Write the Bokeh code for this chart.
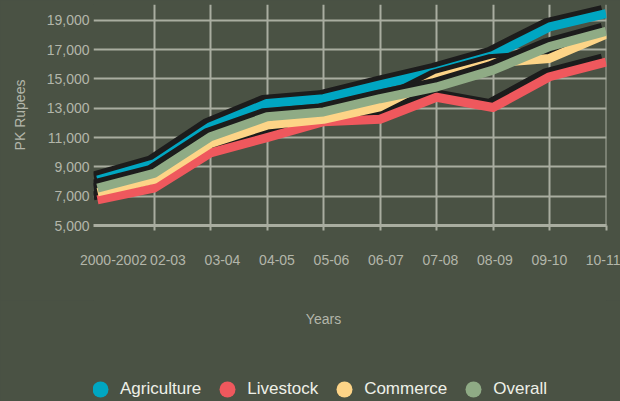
from bokeh.plotting import figure
from bokeh.layouts import column
from bokeh.models import (Range1d, LinearAxis, FixedTicker, Legend, LegendItem,
                          NumeralTickFormatter, ColumnDataSource, Dodge, Label)
from bokeh.embed import file_html
from bokeh.resources import INLINE

# ---- data ----
categories = ["2000-2002", "02-03", "03-04", "04-05", "05-06", "06-07",
              "07-08", "08-09", "09-10", "10-11"]
agriculture = [8100, 9200, 11750, 13330, 13650, 14600, 15500, 16600, 18550, 19450]
livestock = [6750, 7550, 9950, 11000, 12080, 12250, 13750, 13050, 15150, 16150]
commerce = [7300, 8150, 10600, 11850, 12250, 13100, 15050, 16100, 16400, 18050]
overall = [7550, 8550, 11050, 12420, 12750, 13650, 14450, 15600, 17200, 18250]
series_names = ["Agriculture", "Livestock", "Commerce", "Overall"]
y_ticks = [5000, 7000, 9000, 11000, 13000, 15000, 17000, 19000]
x_title = "Years"
y_title = "PK Rupees"

# ---- style ----
FONT = "Liberation Sans"
BG = "#4a5244"
GRID = "#a9ada0"
LABEL = "#b3b6aa"
LEGEND_TXT = "#eef0e8"
SHADOW = "#1c1c1c"
colors = ["#00a6c2", "#ef585d", "#fdd487", "#8fab85"]

idx = list(range(len(categories)))
source = ColumnDataSource(dict(x=idx, Agriculture=agriculture, Livestock=livestock,
                               Commerce=commerce, Overall=overall))

p = figure(width=620, height=300, output_backend="svg", toolbar_location=None,
           x_range=Range1d(-0.0708, 9.0088), y_range=Range1d(5000, 20080),
           min_border_left=93, min_border_right=14, min_border_top=4,
           min_border_bottom=75,
           background_fill_color=BG, border_fill_color=BG, outline_line_color=None)

# grids
p.ygrid.ticker = FixedTicker(ticks=y_ticks)
p.xgrid.ticker = FixedTicker(ticks=idx[1:])
for g in (p.xgrid, p.ygrid):
    g.grid_line_color = GRID
    g.grid_line_width = 2

# y axis
ya = p.yaxis[0]
ya.ticker = FixedTicker(ticks=y_ticks)
ya.formatter = NumeralTickFormatter(format="0,0")
ya.axis_line_color = None
ya.major_tick_line_color = None
ya.minor_tick_line_color = None
ya.major_tick_in = 0
ya.major_tick_out = 0
ya.major_label_standoff = 4
ya.major_label_text_font = FONT
ya.major_label_text_font_size = "14px"
ya.major_label_text_color = LABEL
ya.axis_label = y_title
ya.axis_label_text_font = FONT
ya.axis_label_text_font_size = "14px"
ya.axis_label_text_font_style = "normal"
ya.axis_label_text_color = LABEL
ya.axis_label_standoff = 16

# main x axis: line + tick marks only
xa = p.xaxis[0]
xa.ticker = FixedTicker(ticks=idx[1:])
xa.major_label_overrides = {i: "" for i in idx}
xa.major_label_text_font_size = "1px"
xa.major_label_standoff = 0
xa.axis_line_color = GRID
xa.axis_line_width = 3
xa.major_tick_line_color = GRID
xa.major_tick_line_width = 2
xa.major_tick_in = 0
xa.major_tick_out = 5
xa.minor_tick_line_color = None

# category label axis
p.extra_x_ranges = {"labels": Range1d(-0.367, 9.046)}
la = LinearAxis(x_range_name="labels", ticker=FixedTicker(ticks=idx),
                major_label_overrides={i: c for i, c in zip(idx, categories)})
la.axis_line_color = None
la.major_tick_line_color = None
la.minor_tick_line_color = None
la.major_label_standoff = 18
la.major_label_text_font = FONT
la.major_label_text_font_size = "14px"
la.major_label_text_color = LABEL
p.add_layout(la, "below")

# series lines with offset dark shadow
for name, col in zip(series_names, colors):
    p.line(x=dict(field="x", transform=Dodge(value=-0.071)),
           y=dict(field=name, transform=Dodge(value=272)),
           source=source, line_color=SHADOW, line_width=9,
           line_join="round")
    p.line(x="x", y=name, source=source, line_color=col, line_width=9,
           line_join="round")

# lower strip: x-axis title and legend
lg = figure(width=620, height=101, output_backend="svg", toolbar_location=None,
            x_axis_type=None, y_axis_type=None,
            x_range=Range1d(-100, -99), y_range=Range1d(-100, -99),
            min_border_left=0, min_border_right=0, min_border_top=0,
            min_border_bottom=0,
            background_fill_color=BG, border_fill_color=BG, outline_line_color=None)

lg.add_layout(Label(x=230, y=83, x_units="screen", y_units="screen", text=x_title,
                    text_font=FONT, text_font_size="14px", text_color=LABEL,
                    text_align="center", text_baseline="middle"))

items = []
for name, col in zip(series_names, colors):
    dot = lg.scatter(x="x", y=name, source=source, size=0, fill_color=col,
                     line_color=None, marker="circle")
    items.append(LegendItem(label=name, renderers=[dot]))

legend = Legend(items=items, orientation="horizontal", location=(-13, -8),
                glyph_width=40, glyph_height=40, label_standoff=-3, spacing=6,
                padding=0, margin=0, border_line_color=None,
                background_fill_alpha=0,
                label_text_font=FONT, label_text_font_size="17px",
                label_text_color=LEGEND_TXT)
lg.add_layout(legend, "center")

layout = column(p, lg, spacing=0, styles={"background-color": BG})
open("out.html", "w").write(file_html(layout, INLINE))
